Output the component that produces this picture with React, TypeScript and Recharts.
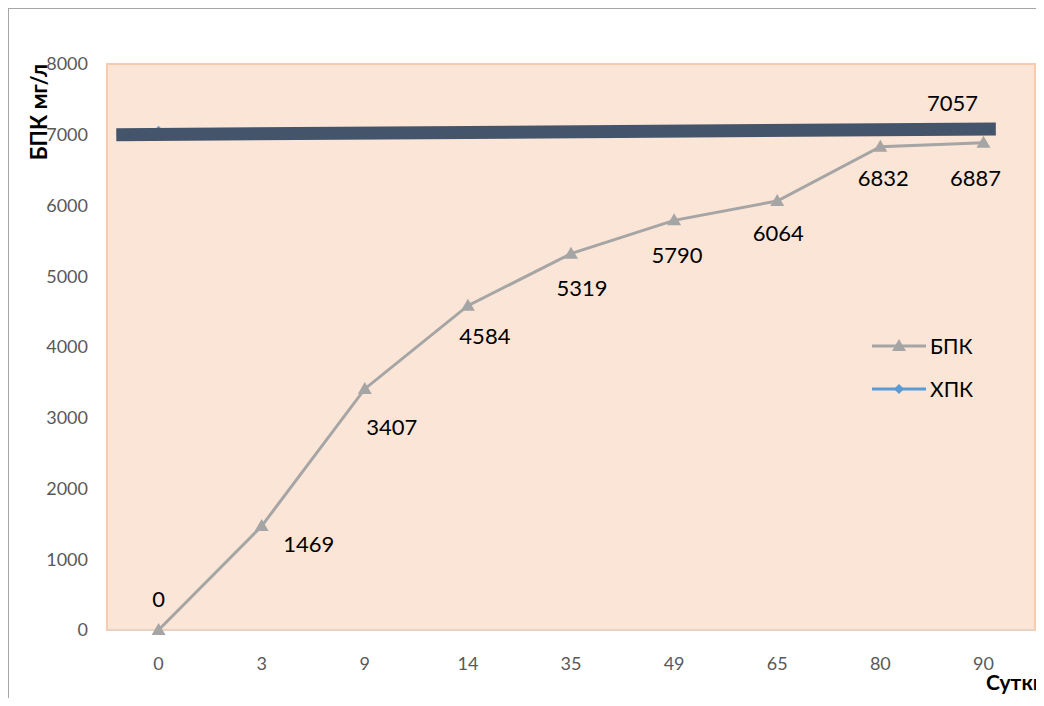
import React from 'react';
import {
  LineChart,
  Line,
  XAxis,
  YAxis,
  ReferenceArea,
  LabelList,
} from 'recharts';

const days = ['0', '3', '9', '14', '35', '49', '65', '80', '90'];
const bpkValues = [0, 1469, 3407, 4584, 5319, 5790, 6064, 6832, 6887];
const hpkValues = [7057, 7057, 7057, 7057, 7057, 7057, 7057, 7057, 7057];
const yTicks = [0, 1000, 2000, 3000, 4000, 5000, 6000, 7000, 8000];
// dark trend band drawn over the ХПК series (idx in category index units)
const bandIdx = [-0.41, 8.12];
const bandValues = [7000, 7080];

// label nudges, relative to each point
const bpkLabelShift = [
  [0, -32], [47, 17], [27, 38], [17, 30], [11, 34], [3, 34], [1, 32], [3, 31], [-8, 35],
];

const data = days.map((d, i) => ({ idx: i, day: d, bpk: bpkValues[i], hpk: hpkValues[i] }));
const bandData = bandIdx.map((x, i) => ({ idx: x, band: bandValues[i] }));

const FONT = 'Lato, "Open Sans", sans-serif';
const GRAY = '#A5A5A5';
const BLUE = '#5B9BD5';

const Triangle = (props: any) => {
  const { cx, cy } = props;
  if (cx == null || cy == null) return null;
  return <path d={`M${cx},${cy - 7} L${cx + 7},${cy + 5} L${cx - 7},${cy + 5} Z`} fill={GRAY} />;
};

// only the first marker peeks out from under the dark band
const Diamond = (props: any) => {
  const { cx, cy, index } = props;
  if (cx == null || cy == null || index !== 0) return null;
  return <path d={`M${cx},${cy - 5} L${cx + 5},${cy} L${cx},${cy + 5} L${cx - 5},${cy} Z`} fill={BLUE} />;
};

const BpkLabel = (props: any) => {
  const { x, y, value, index } = props;
  const [dx, dy] = bpkLabelShift[index] || [0, 30];
  return (
    <text x={x + dx} y={y + dy} textAnchor="middle" dominantBaseline="central" fontSize={22} fill="#000" fontFamily={FONT}>
      {value}
    </text>
  );
};

const HpkLabel = (props: any) => {
  const { x, y, value, index } = props;
  if (index !== hpkValues.length - 1) return null;
  return (
    <text x={x - 31} y={y - 28} textAnchor="middle" dominantBaseline="central" fontSize={22} fill="#000" fontFamily={FONT}>
      {value}
    </text>
  );
};

const LegendBox = () => (
  <div style={{ position: 'absolute', left: 862, top: 315, fontFamily: FONT, fontSize: 21, color: '#000' }}>
    {[
      { name: 'БПК', color: GRAY, tri: true },
      { name: 'ХПК', color: BLUE, tri: false },
    ].map((it) => (
      <div key={it.name} style={{ display: 'flex', alignItems: 'center', height: 43 }}>
        <svg width={56} height={16}>
          <line x1={1} y1={8} x2={55} y2={8} stroke={it.color} strokeWidth={3} />
          {it.tri ? (
            <path d="M28,1 L35,13 L21,13 Z" fill={it.color} />
          ) : (
            <path d="M28,3 L33,8 L28,13 L23,8 Z" fill={it.color} />
          )}
        </svg>
        <span style={{ marginLeft: 3 }}>{it.name}</span>
      </div>
    ))}
  </div>
);

export default function App() {
  return (
    <div
      style={{
        position: 'relative',
        boxSizing: 'border-box',
        width: 1036,
        height: 698,
        marginBottom: -8,
        borderLeft: '1px solid #A6A6A6',
        borderTop: '1px solid #A6A6A6',
        background: '#fff',
        overflow: 'hidden',
      }}
    >
      <LineChart width={1035} height={697} data={data} margin={{ top: 55, right: 9, bottom: 46, left: 0 }}>
        <XAxis
          dataKey="idx"
          type="number"
          domain={[-0.5, 8.5]}
          ticks={[0, 1, 2, 3, 4, 5, 6, 7, 8]}
          tickFormatter={(v) => days[v]}
          tickLine={false}
          axisLine={{ stroke: '#D9D9D9' }}
          tickMargin={21}
          height={30}
          tick={{ fontSize: 18, fill: '#595959', fontFamily: FONT }}
          allowDataOverflow
        />
        <YAxis
          domain={[0, 8000]}
          ticks={yTicks}
          tickLine={false}
          axisLine={false}
          width={98}
          tickMargin={13}
          tick={{ fontSize: 18, fill: '#595959', fontFamily: FONT }}
        />
        <ReferenceArea
          x1={-0.5}
          x2={8.5}
          y1={0}
          y2={8000}
          fill="#FBE5D6"
          fillOpacity={1}
          stroke="#F8CBAD"
          strokeWidth={2}
          ifOverflow="visible"
        />
        <Line
          dataKey="hpk"
          name="ХПК"
          stroke={BLUE}
          strokeWidth={3}
          dot={<Diamond />}
          isAnimationActive={false}
        >
          <LabelList dataKey="hpk" content={<HpkLabel />} />
        </Line>
        <Line
          data={bandData}
          dataKey="band"
          stroke="#44546A"
          strokeWidth={13}
          dot={false}
          activeDot={false}
          legendType="none"
          isAnimationActive={false}
          {...({ zIndex: 700 } as any)}
        />
        <Line
          dataKey="bpk"
          name="БПК"
          stroke={GRAY}
          strokeWidth={3}
          dot={<Triangle />}
          isAnimationActive={false}
        >
          <LabelList dataKey="bpk" content={<BpkLabel />} />
        </Line>
      </LineChart>
      <LegendBox />
      <div
        style={{
          position: 'absolute',
          left: 29,
          top: 103,
          transform: 'translate(-50%, -50%) rotate(-90deg)',
          fontFamily: FONT,
          fontWeight: 700,
          fontSize: 22,
          whiteSpace: 'nowrap',
          color: '#000',
        }}
      >
        БПК мг/л
      </div>
      <div
        style={{
          position: 'absolute',
          left: 977,
          top: 660,
          fontFamily: FONT,
          fontWeight: 700,
          fontSize: 21,
          whiteSpace: 'nowrap',
          color: '#000',
        }}
      >
        Сутки
      </div>
    </div>
  );
}
